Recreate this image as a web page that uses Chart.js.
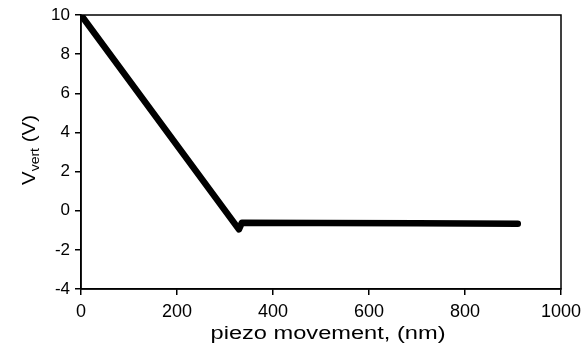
<!DOCTYPE html>
<html>
<head>
<meta charset="utf-8">
<script src="https://cdn.jsdelivr.net/npm/chart.js@4"></script>
<style>
  html, body { margin: 0; padding: 0; background: #fff; }
  #wrap { width: 581px; height: 343px; }
</style>
</head>
<body>
<div id="wrap"><canvas id="curve"></canvas></div>
<script>
// piezo movement (nm) vs vertical deflection signal (V)
let piezoNm = [0, 329, 335, 500, 700, 910];
let vertV = [10, -0.95, -0.62, -0.63, -0.64, -0.67];
let xTicks = [0, 200, 400, 600, 800, 1000];
let yTicks = [-4, -2, 0, 2, 4, 6, 8, 10];

let points = piezoNm.map((x, i) => ({ x: x, y: vertV[i] }));

// box around plot area + axis titles (y title needs a subscript)
let framePlugin = {
	id: 'frame',
	afterDraw(chart) {
		let c = chart.ctx;
		let a = chart.chartArea;
		c.save();
		c.strokeStyle = '#000';
		c.lineWidth = 1.5;
		c.strokeRect(a.left, a.top, a.right - a.left, a.bottom - a.top);

		// x title, stretched a bit like the scan
		c.fillStyle = '#000';
		c.font = '18px "Liberation Sans", Arial, sans-serif';
		c.textBaseline = 'alphabetic';
		let xt = 'piezo movement, (nm)';
		let w = c.measureText(xt).width;
		let sx = 235 / w;
		c.translate(328, 339);
		c.scale(sx, 1);
		c.textAlign = 'center';
		c.fillText(xt, 0, 0);
		c.restore();

		// y title: V_vert (V)
		c.save();
		c.fillStyle = '#000';
		c.translate(35, 150);
		c.rotate(-Math.PI / 2);
		let big = '19px "Liberation Sans", Arial, sans-serif';
		let small = '13px "Liberation Sans", Arial, sans-serif';
		c.font = big;
		let wV = c.measureText('V').width;
		let wEnd = c.measureText(' (V)').width;
		c.font = small;
		let wSub = c.measureText('vert').width;
		let total = wV + wSub + wEnd;
		let s = 70 / total;
		c.scale(s, 1);
		let x0 = -total / 2;
		c.textAlign = 'left';
		c.font = big;
		c.fillText('V', x0, 0);
		c.font = small;
		c.fillText('vert', x0 + wV, 4);
		c.font = big;
		c.fillText(' (V)', x0 + wV + wSub, 0);
		c.restore();
	}
};

new Chart(document.getElementById('curve'), {
	type: 'scatter',
	data: {
		datasets: [{
			data: points,
			showLine: true,
			borderColor: '#000',
			borderWidth: 6.5,
			borderCapStyle: 'round',
			borderJoinStyle: 'round',
			pointRadius: 0,
			tension: 0
		}]
	},
	options: {
		responsive: true,
		maintainAspectRatio: false,
		animation: false,
		layout: { padding: { top: 15, right: 20, left: 0, bottom: 0 } },
		plugins: {
			legend: { display: false },
			tooltip: { enabled: false }
		},
		scales: {
			x: {
				type: 'linear',
				min: 0,
				max: 1000,
				afterBuildTicks: (axis) => { axis.ticks = xTicks.map(v => ({ value: v })); },
				afterFit: (axis) => {
					axis.height = 54;
					axis.paddingLeft = 0;
					axis.paddingRight = 0;
				},
				ticks: {
					color: '#000',
					padding: 6,
					maxRotation: 0,
					callback: (v) => String(v),
					font: { family: '"Liberation Sans", Arial, sans-serif', size: 18 }
				},
				grid: { drawOnChartArea: false, color: '#000', tickLength: 6, lineWidth: 1.5 },
				border: { display: true, color: '#000', width: 1.5 }
			},
			y: {
				min: -4,
				max: 10,
				afterBuildTicks: (axis) => { axis.ticks = yTicks.map(v => ({ value: v })); },
				afterFit: (axis) => {
					axis.width = 81;
					axis.paddingTop = 0;
					axis.paddingBottom = 0;
				},
				ticks: {
					color: '#000',
					padding: 5,
					callback: (v) => String(v),
					font: { family: '"Liberation Sans", Arial, sans-serif', size: 17 }
				},
				grid: { drawOnChartArea: false, color: '#000', tickLength: 6, lineWidth: 1.5 },
				border: { display: true, color: '#000', width: 1.5 }
			}
		}
	},
	plugins: [framePlugin]
});
</script>
</body>
</html>
